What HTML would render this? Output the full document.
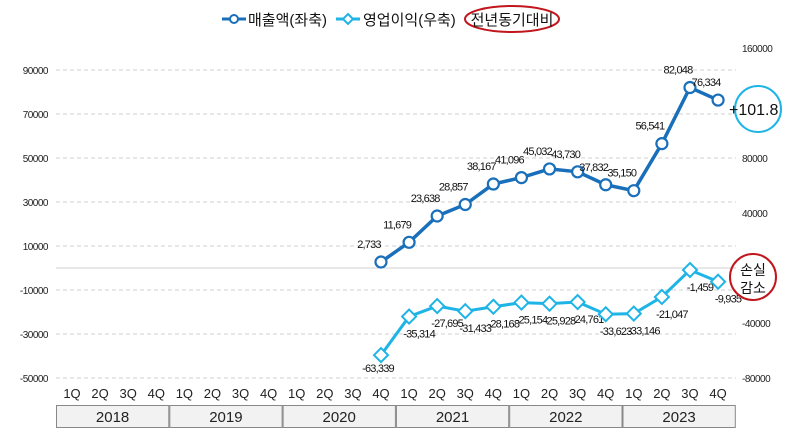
<!DOCTYPE html>
<html><head><meta charset="utf-8"><style>
body{margin:0;background:#fff;width:788px;height:439px;overflow:hidden;font-family:"Liberation Sans","Noto Sans CJK KR",sans-serif}
svg text{font-family:"Liberation Sans","Noto Sans CJK KR",sans-serif}
</style></head><body>
<svg id="c" width="788" height="439"></svg>
<script>
const years=["2018","2019","2020","2021","2022","2023"];
const quarters=["1Q","2Q","3Q","4Q"];
const startIndex=11;
const revenue=[2733,11679,23638,28857,38167,41096,45032,43730,37832,35150,56541,82048,76334];
const opProfit=[-63339,-35314,-27695,-31433,-28168,-25154,-25928,-24761,-33623,-33146,-21047,-1459,-9935];
const leftTicks=[90000,70000,50000,30000,10000,-10000,-30000,-50000];
const rightTicks=[160000,80000,40000,-40000,-80000];

const NS="http://www.w3.org/2000/svg";
const svg=document.getElementById('c');
function el(t,a,txt){const e=document.createElementNS(NS,t);for(const k in a)e.setAttribute(k,a[k]);if(txt!==undefined)e.textContent=txt;svg.appendChild(e);return e;}
const x=i=>72+i*28.09;
const yL=v=>268-v*44/20000;
const yR=v=>268-v*55/40000;

// gridlines
leftTicks.forEach(v=>{
 const g=el('line',{x1:56,x2:736,y1:yL(v),y2:yL(v),stroke:'#d0d0d0','stroke-dasharray':'4,3'});
 
 
 const t=el('text',{x:48,y:yL(v)+4,'font-size':10,'text-anchor':'end',fill:'#222','letter-spacing':'-0.5'},v);
 
 
});
const z=el('line',{x1:56,x2:736,y1:yL(0),y2:yL(0),stroke:'#d0d0d0'});


rightTicks.forEach(v=>{
 const t=el('text',{x:742,y:yR(v)+4,'font-size':10,fill:'#222','letter-spacing':'-0.5'},v);
 
 
});
// x axis labels
years.forEach((yr,yi)=>{
 quarters.forEach((q,qi)=>{
  const t=el('text',{x:x(yi*4+qi),y:398,'font-size':13,'text-anchor':'middle',fill:'#222'},q);
  
  
 });
 const bx=56+yi*113.3;
 const r=el('rect',{x:bx+0.5,y:405.5,width:112.3,height:22,fill:'#f2f2f2',stroke:'#888'});
 
 
 const t=el('text',{x:bx+56.6,y:422,'font-size':15,'text-anchor':'middle',fill:'#222'},yr);
 
 
});
// revenue line
const rp=el('polyline',{points:revenue.map((v,i)=>x(startIndex+i)+','+yL(v)).join(' '),fill:'none',stroke:'#1a6fba','stroke-width':3.5});


revenue.forEach((v,i)=>{
 const cx=x(startIndex+i),cy=yL(v);
 const c=el('circle',{cx:cx,cy:cy,r:5.5,fill:'#fff',stroke:'#1a6fba','stroke-width':2.2});
 
 
 const t=el('text',{x:cx-12,y:cy-14,'font-size':11,'text-anchor':'middle',fill:'#111','letter-spacing':'-0.8'},v.toLocaleString('en-US'));
 
 
});
// op line
const op=el('polyline',{points:opProfit.map((v,i)=>x(startIndex+i)+','+yR(v)).join(' '),fill:'none',stroke:'#1fb4e6','stroke-width':3});


opProfit.forEach((v,i)=>{
 const cx=x(startIndex+i),cy=yR(v);
 const d=el('polygon',{points:`${cx},${cy-7} ${cx+7},${cy} ${cx},${cy+7} ${cx-7},${cy}`,fill:'#fff',stroke:'#1fb4e6','stroke-width':2});
 
 
 const t=el('text',{x:cx+(i==0?-3:10),y:cy+(i==0?17:21),'font-size':11,'text-anchor':'middle',fill:'#111','letter-spacing':'-0.8'},v.toLocaleString('en-US'));
 
 
});
// annotations
const a1=el('circle',{cx:758,cy:109,r:23,fill:'none',stroke:'#1fb4e6','stroke-width':2});


const a1t=el('text',{x:729,y:115,'font-size':16,fill:'#111'},'+101.8');


const a2=el('circle',{cx:753,cy:277,r:23,fill:'none',stroke:'#c0161c','stroke-width':2});


const a2a=el('text',{x:753,y:275,'font-size':14,'text-anchor':'middle',fill:'#111'},'손실');


const a2b=el('text',{x:753,y:293,'font-size':14,'text-anchor':'middle',fill:'#111'},'감소');


// legend
const l1=el('line',{x1:222,x2:246,y1:19,y2:19,stroke:'#1a6fba','stroke-width':3});


const l1c=el('circle',{cx:234,cy:19,r:4,fill:'#fff',stroke:'#1a6fba','stroke-width':2});


const l1t=el('text',{x:248,y:25,'font-size':15,fill:'#111'},'매출액(좌축)');


const l2=el('line',{x1:336,x2:360,y1:19,y2:19,stroke:'#1fb4e6','stroke-width':3});


const l2d=el('polygon',{points:'348,14 353,19 348,24 343,19',fill:'#fff',stroke:'#1fb4e6','stroke-width':2});


const l2t=el('text',{x:363,y:25,'font-size':15,fill:'#111'},'영업이익(우축)');


const l3=el('ellipse',{cx:512,cy:19,rx:47,ry:13,fill:'none',stroke:'#c0161c','stroke-width':2});


const l3t=el('text',{x:512,y:25,'font-size':15,'text-anchor':'middle',fill:'#111'},'전년동기대비');


</script>
</body></html>
